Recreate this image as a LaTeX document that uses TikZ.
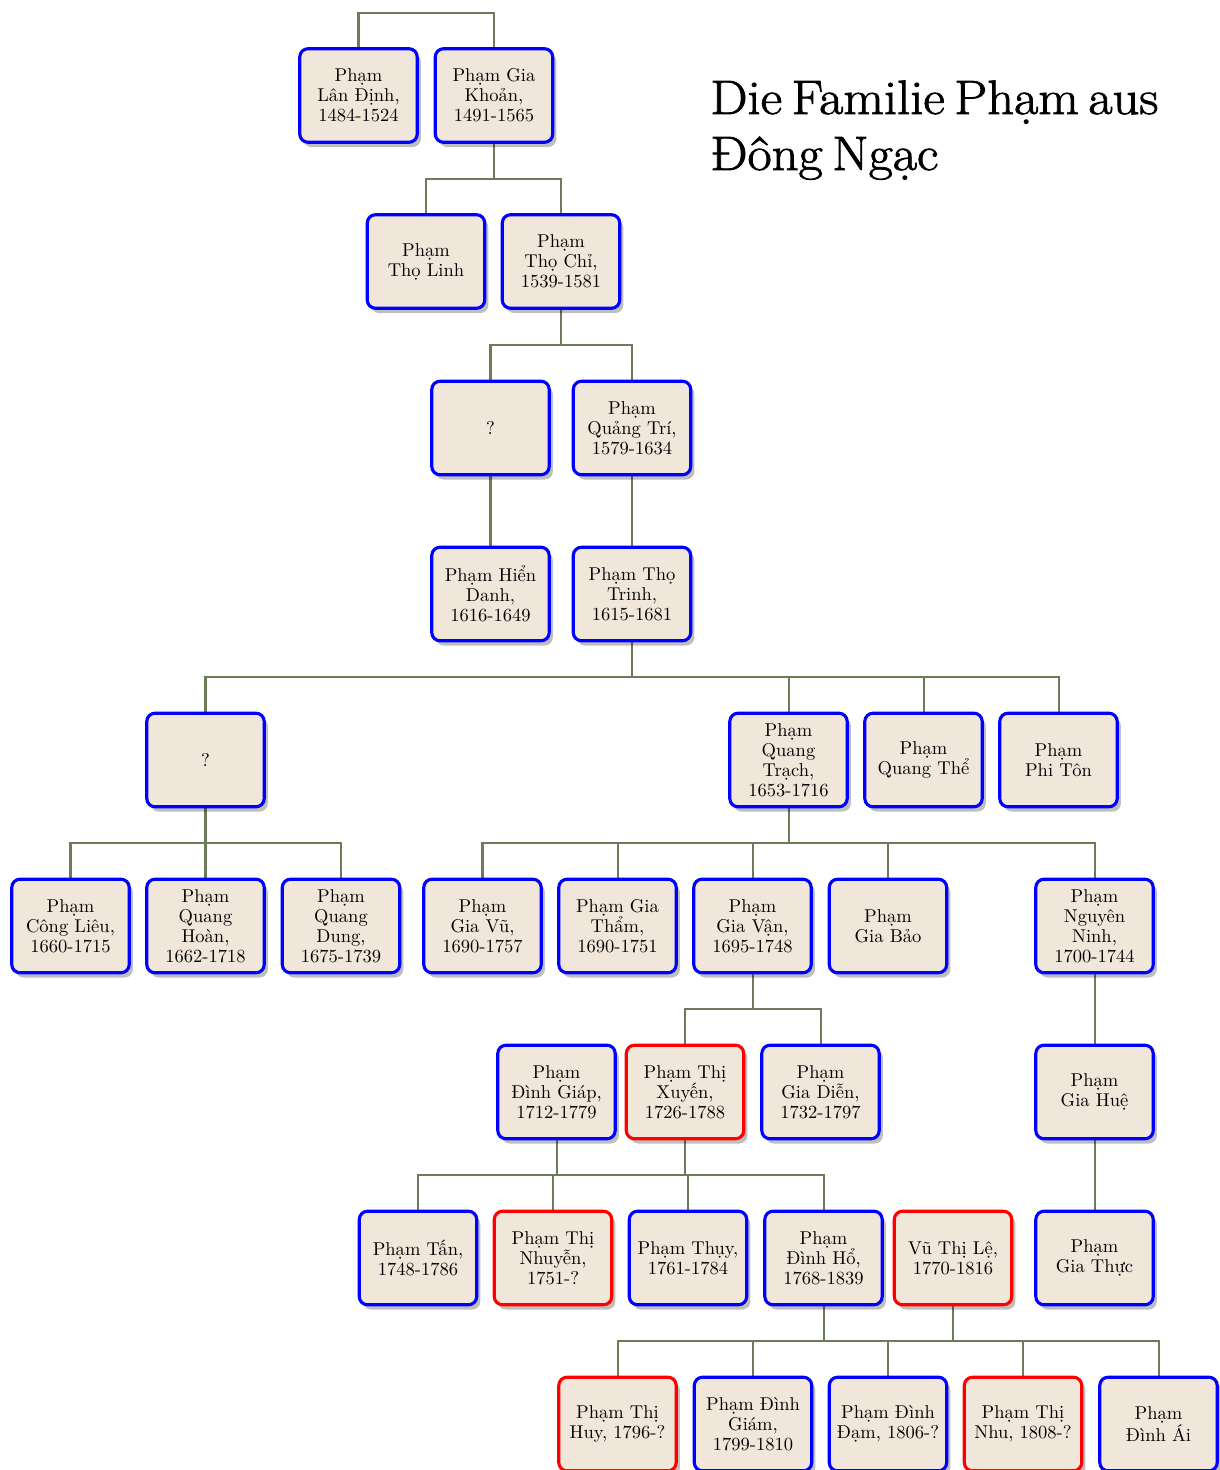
\documentclass[tikz,border=0pt]{standalone}
\usepackage{fontspec}
\newfontfamily\titlef[FakeStretch=1.09,FakeBold=1.6,WordSpace=0.6]{Latin Modern Roman}
\usetikzlibrary{shadows,backgrounds}
\definecolor{boxfill}{RGB}{240,230,218}
\definecolor{maleline}{RGB}{0,0,255}
\definecolor{femaleline}{RGB}{255,0,0}
\definecolor{edgecol}{RGB}{108,124,88}
\begin{document}
\begin{tikzpicture}[x=0.545pt,y=-0.545pt,
  person/.style={rectangle, rounded corners=4.5pt, draw, line width=1.7pt,
    fill=boxfill, minimum width=64pt, minimum height=51pt, inner sep=0pt,
    align=center, font=\fontsize{10.1}{10.9}\selectfont,
    drop shadow={shadow xshift=2pt, shadow yshift=-2.6pt, opacity=0.25, fill=black}},
  male/.style={person, draw=maleline},
  female/.style={person, draw=femaleline},
  edge/.style={draw=edgecol, line width=1.1pt},
  titlefont/.style={font=\titlef\fontsize{26.3}{30}\selectfont}]
\useasboundingbox (0,0) rectangle (1220,1470);

% title
\node[titlefont, anchor=base west, inner sep=0pt] (title1) at (710,114) {Die Familie Phạm aus};
\node[titlefont, anchor=base west, inner sep=0pt] (title2) at (710,170) {Đông Ngạc};

% join levels
\coordinate (j0) at (0,13);
\coordinate (j1) at (0,179);
\coordinate (j2) at (0,345);
\coordinate (j4) at (0,677);
\coordinate (j5) at (0,843);
\coordinate (j6) at (0,1009);
\coordinate (j7) at (0,1175);
\coordinate (j8) at (0,1341);

% nodes
\node[male] (a1) at (358.5,95.5) {Phạm\\Lân Định,\\1484-1524};
\node[male] (a2) at (494,95.5) {Phạm Gia\\Khoản,\\1491-1565};

\node[male] (b1) at (426,261.5) {Phạm\\Thọ Linh};
\node[male] (b2) at (561,261.5) {Phạm\\Thọ Chỉ,\\1539-1581};

\node[male] (c1) at (490.5,428) {?};
\node[male] (c2) at (632,428) {Phạm\\Quảng Trí,\\1579-1634};

\node[male] (d1) at (490.5,594) {Phạm Hiển\\Danh,\\1616-1649};
\node[male] (d2) at (632,594) {Phạm Thọ\\Trinh,\\1615-1681};

\node[male] (e1) at (205.5,760) {?};
\node[male] (e2) at (788.5,760) {Phạm\\Quang\\Trạch,\\1653-1716};
\node[male] (e3) at (923.5,760) {Phạm\\Quang Thể};
\node[male] (e4) at (1058.5,760) {Phạm\\Phi Tôn};

\node[male] (f1) at (70.5,926) {Phạm\\Công Liêu,\\1660-1715};
\node[male] (f2) at (205.5,926) {Phạm\\Quang\\Hoàn,\\1662-1718};
\node[male] (f3) at (341,926) {Phạm\\Quang\\Dung,\\1675-1739};
\node[male] (f4) at (482.5,926) {Phạm\\Gia Vũ,\\1690-1757};
\node[male] (f5) at (617.5,926) {Phạm Gia\\Thẩm,\\1690-1751};
\node[male] (f6) at (752.5,926) {Phạm\\Gia Vận,\\1695-1748};
\node[male] (f7) at (888,926) {Phạm\\Gia Bảo};
\node[male] (f8) at (1094.5,926) {Phạm\\Nguyên\\Ninh,\\1700-1744};

\node[male] (g1) at (556.5,1092) {Phạm\\Đình Giáp,\\1712-1779};
\node[female] (g2) at (685,1092) {Phạm Thị\\Xuyến,\\1726-1788};
\node[male] (g3) at (820.5,1092) {Phạm\\Gia Diễn,\\1732-1797};
\node[male] (g4) at (1094.5,1092) {Phạm\\Gia Huệ};

\node[male] (h1) at (418,1258) {Phạm Tấn,\\1748-1786};
\node[female] (h2) at (553,1258) {Phạm Thị\\Nhuyễn,\\1751-?};
\node[male] (h3) at (688,1258) {Phạm Thụy,\\1761-1784};
\node[male] (h4) at (823.5,1258) {Phạm\\Đình Hổ,\\1768-1839};
\node[female] (h5) at (953,1258) {Vũ Thị Lệ,\\1770-1816};
\node[male] (h6) at (1094.5,1258) {Phạm\\Gia Thực};

\node[female] (i1) at (617.5,1424) {Phạm Thị\\Huy, 1796-?};
\node[male] (i2) at (753,1424) {Phạm Đình\\Giám,\\1799-1810};
\node[male] (i3) at (888,1424) {Phạm Đình\\Đạm, 1806-?};
\node[female] (i4) at (1023,1424) {Phạm Thị\\Nhu, 1808-?};
\node[male] (i5) at (1158.5,1424) {Phạm\\Đình Ái};

% connectors (behind the boxes)
\begin{scope}[on background layer]
\draw[edge] (a1.north) -- (a1.north|-j0) -- (a2.north|-j0) -- (a2.north);

\draw[edge] (a2.south) -- (a2.south|-j1);
\draw[edge] (b1.north) -- (b1.north|-j1) -- (b2.north|-j1) -- (b2.north);

\draw[edge] (b2.south) -- (b2.south|-j2);
\draw[edge] (c1.north) -- (c1.north|-j2) -- (c2.north|-j2) -- (c2.north);

\draw[edge] (c1.south) -- (d1.north);
\draw[edge] (c2.south) -- (d2.north);

\draw[edge] (d2.south) -- (d2.south|-j4);
\draw[edge] (e1.north) -- (e1.north|-j4) -- (e4.north|-j4) -- (e4.north);
\draw[edge] (e2.north) -- (e2.north|-j4);
\draw[edge] (e3.north) -- (e3.north|-j4);

\draw[edge] (e1.south) -- (e1.south|-j5);
\draw[edge] (f1.north) -- (f1.north|-j5) -- (f3.north|-j5) -- (f3.north);
\draw[edge] (f2.north) -- (f2.north|-j5);

\draw[edge] (e2.south) -- (e2.south|-j5);
\draw[edge] (f4.north) -- (f4.north|-j5) -- (f8.north|-j5) -- (f8.north);
\draw[edge] (f5.north) -- (f5.north|-j5);
\draw[edge] (f6.north) -- (f6.north|-j5);
\draw[edge] (f7.north) -- (f7.north|-j5);

\draw[edge] (f6.south) -- (f6.south|-j6);
\draw[edge] (g2.north) -- (g2.north|-j6) -- (g3.north|-j6) -- (g3.north);
\draw[edge] (f8.south) -- (g4.north);

\draw[edge] (g1.south) -- (g1.south|-j7);
\draw[edge] (g2.south) -- (g2.south|-j7);
\draw[edge] (h1.north) -- (h1.north|-j7) -- (h4.north|-j7) -- (h4.north);
\draw[edge] (h2.north) -- (h2.north|-j7);
\draw[edge] (h3.north) -- (h3.north|-j7);
\draw[edge] (g4.south) -- (h6.north);

\draw[edge] (h4.south) -- (h4.south|-j8);
\draw[edge] (h5.south) -- (h5.south|-j8);
\draw[edge] (i1.north) -- (i1.north|-j8) -- (i5.north|-j8) -- (i5.north);
\draw[edge] (i2.north) -- (i2.north|-j8);
\draw[edge] (i3.north) -- (i3.north|-j8);
\draw[edge] (i4.north) -- (i4.north|-j8);
\end{scope}
\end{tikzpicture}
\end{document}
